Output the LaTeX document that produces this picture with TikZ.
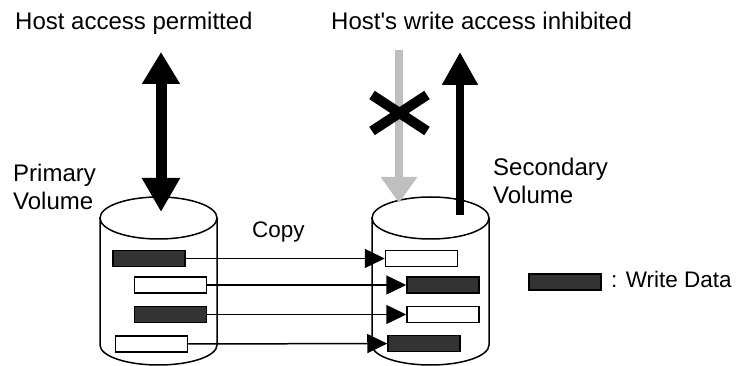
\documentclass[tikz,border=0pt]{standalone}
\usepackage{fontspec}
\setmainfont{Liberation Sans}[Ligatures=TeXOff]
\usetikzlibrary{arrows.meta}
\begin{document}
\begin{tikzpicture}[x = {(1pt,0pt)},
	y = {(0pt,-1pt)},
	datablk/.style = {draw, line width=1.5pt, minimum width=72pt, minimum height=16pt, inner sep=0pt},
	wdatablk/.style = {datablk, fill=black!80},
	olddatablk/.style = {datablk, fill=white},
	copyarrow/.style = {-{Triangle[length=20pt,width=19pt]}, line width=1.5pt},
	lbl/.style = {font=\fontsize{22.5}{28}\selectfont, inner sep=0pt},
	biglbl/.style = {font=\fontsize{24}{28}\selectfont, inner sep=0pt}]
	\useasboundingbox (0,0) rectangle (740,366);
	
	% volumes
	\draw[line width=1.5pt] (100,218) -- (100,345) arc[start angle=180, end angle=360, x radius=58.5pt, y radius=20pt] -- (217,218);
	\draw[line width=1.5pt] (158.5,218) ellipse[x radius=58.5pt, y radius=21pt];
	\draw[line width=1.5pt] (372,218) -- (372,345) arc[start angle=180, end angle=360, x radius=58.5pt, y radius=20pt] -- (489,218);
	\draw[line width=1.5pt] (430.5,218) ellipse[x radius=58.5pt, y radius=21pt];
	
	\node[wdatablk] (p1) at (149,258.5) {};
	\node[olddatablk] (p2) at (170.5,285) {};
	\node[wdatablk] (p3) at (170.5,314.5) {};
	\node[olddatablk] (p4) at (151.5,344) {};
	
	\node[olddatablk] (s1) at (421.5,258.5) {};
	\node[wdatablk] (s2) at (443,285) {};
	\node[olddatablk] (s3) at (443,314.5) {};
	\node[wdatablk] (s4) at (424,343.5) {};
	
	\draw[copyarrow] (p1) -- (s1);
	\draw[copyarrow] (p2) -- (s2);
	\draw[copyarrow] (p3) -- (s3);
	\draw[copyarrow] (p4) -- (s4);
	
	% host access
	\coordinate (hostA) at (161,52);
	\coordinate (pvtop) at (161,212);
	\coordinate (hostB) at (399,50);
	\coordinate (svgray) at (399,203);
	\coordinate (svtop) at (460,215);
	\coordinate (hostC) at (460,52);
	\draw[line width=11pt, {Triangle[length=32pt,width=36pt]}-{Triangle[length=34pt,width=36pt]}] (hostA) -- (pvtop);
	\draw[line width=8pt, black!25, -{Triangle[length=26pt,width=35pt]}] (hostB) -- (svgray);
	\draw[line width=8pt, -{Triangle[length=33pt,width=34pt]}] (svtop) -- (hostC);
	\draw[line width=10pt] (372,95) -- (427,131) (372,131) -- (427,95);
	
	\node[biglbl, anchor=base west] (permit) at (15,30) {Host access permitted};
	\node[biglbl, anchor=base west] (inhibit) at (331,30) {Host's write access inhibited};
	\node[biglbl, align=left, anchor=north west] (pvname) at (13,164) {Primary\\Volume};
	\node[biglbl, align=left, anchor=north west] (svname) at (493,158) {Secondary\\Volume};
	\node[lbl, anchor=base west] (copy) at (252,238) {Copy};
	
	\node[wdatablk] (legend) at (565,282) {};
	\node[lbl, anchor=base west] (legendtxt) at (611,288) {: Write Data};
	\end{tikzpicture}
\end{document}
